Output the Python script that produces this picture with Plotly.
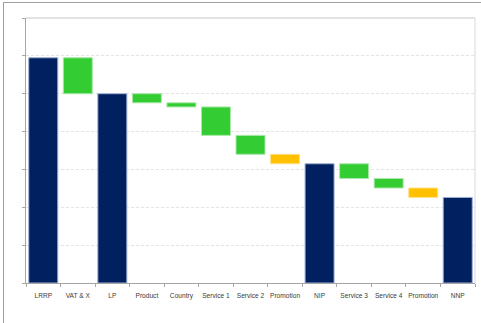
import plotly.graph_objects as go

categories = ["LRRP", "VAT & X", "LP", "Product", "Country", "Service 1", "Service 2",
              "Promotion", "NIP", "Service 3", "Service 4", "Promotion\u200b", "NNP"]
kinds = ["total", "down", "total", "down", "down", "down", "down",
         "promo", "total", "down", "down", "promo", "total"]
amounts = [5.95, 0.95, 5.00, 0.24, 0.11, 0.75, 0.50, 0.25, 3.15, 0.39, 0.25, 0.25, 2.26]

fill = {"total": "#002060", "down": "#33CC33", "promo": "#FFC000"}
edge = {"total": "#9fb0d3", "down": "#a9e9a9", "promo": "#ffe08a"}

bases, heights = [], []
level = 0.0
for k, a in zip(kinds, amounts):
    if k == "total":
        bases.append(0.0)
        heights.append(a)
        level = a
    else:
        level -= a
        bases.append(level)
        heights.append(a)

fig = go.Figure(go.Bar(
    x=categories, y=heights, base=bases,
    marker=dict(color=[fill[k] for k in kinds],
                line=dict(color=[edge[k] for k in kinds], width=1)),
    hoverinfo="skip",
))

L, R, T, B = 26, 475, 18, 283
W, H = 481, 323
pw, ph = R - L, B - T

fig.update_layout(
    width=W, height=H,
    margin=dict(l=L, r=W - R, t=T, b=H - B),
    paper_bgcolor="white", plot_bgcolor="white",
    bargap=0.16, showlegend=False,
    xaxis=dict(type="category", tickson="boundaries", ticks="outside", ticklen=3,
               tickcolor="#a6a6a6", showline=True, linecolor="#a6a6a6", linewidth=1,
               showgrid=False, zeroline=False, tickangle=0, automargin=False,
               ticklabelstandoff=6,
               tickfont=dict(family="Liberation Sans Narrow, Arial Narrow, sans-serif",
                             size=6.6, color="#3a3a3a"),
               fixedrange=True),
    yaxis=dict(range=[0, 7], dtick=1, showticklabels=False, ticks="outside", ticklen=3,
               tickcolor="#a6a6a6", showline=True, linecolor="#a6a6a6", linewidth=1,
               showgrid=True, gridcolor="#e4e4e4", griddash="3px,2px", gridwidth=1,
               zeroline=False, fixedrange=True),
    shapes=[
        # plot area top and right border
        dict(type="line", xref="paper", yref="paper", x0=0, x1=1, y0=1, y1=1,
             line=dict(color="#e3e3e3", width=2)),
        dict(type="line", xref="paper", yref="paper", x0=1, x1=1, y0=0, y1=1,
             line=dict(color="#d9d9d9", width=1)),
        # outer frame (top and left)
        dict(type="line", xref="paper", yref="paper",
             x0=(3 - L) / pw, x1=(W - L) / pw, y0=(B - 2.5) / ph, y1=(B - 2.5) / ph,
             line=dict(color="#a0a0a0", width=1)),
        dict(type="line", xref="paper", yref="paper",
             x0=(3.5 - L) / pw, x1=(3.5 - L) / pw, y0=(B - 2.5) / ph, y1=(B - H) / ph,
             line=dict(color="#a0a0a0", width=1)),
    ],
)

fig.write_html("out.html")
